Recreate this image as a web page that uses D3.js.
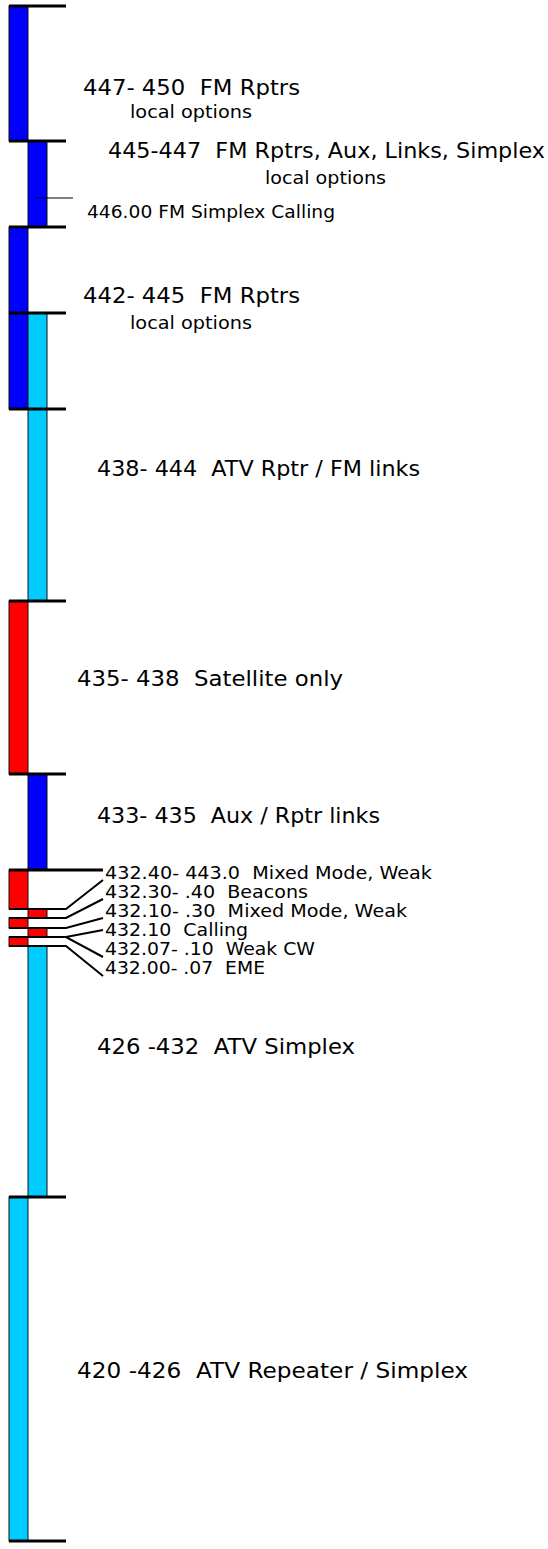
<!DOCTYPE html>
<html>
<head>
<meta charset="utf-8">
<script src="https://cdn.jsdelivr.net/npm/d3@7"></script>
<style>
  body { margin: 0; background: #fff; }
  text { font-family: "DejaVu Sans", sans-serif; fill: #000; white-space: pre; }
</style>
</head>
<body>
<div id="chart"></div>
<script>
// band edges in MHz, one entry per coloured block
var bandLo   = [447, 445, 442, 438, 435, 433, 432.4, 432.3, 432.1, 432.07, 432.0, 426, 420];
var bandHi   = [450, 447, 445, 444, 438, 435, 433, 432.4, 432.3, 432.1, 432.07, 432, 426];
var bandLane = [0, 1, 0, 1, 0, 1, 0, 1, 0, 1, 0, 1, 0];
var bandUse  = ["fm", "fm", "fm", "atv", "sat", "fm", "weak", "weak", "weak", "weak", "weak", "atv", "atv"];

// frequencies that get a heavy tick
var tickFreqs = [450, 447, 445, 444, 442, 438, 435, 433, 426, 420];

// single calling channel marker
var markFreq = 446.0;

// main labels
var mainLabels = ["447- 450  FM Rptrs", "445-447  FM Rptrs, Aux, Links, Simplex", "442- 445  FM Rptrs",
                  "438- 444  ATV Rptr / FM links", "435- 438  Satellite only", "433- 435  Aux / Rptr links",
                  "426 -432  ATV Simplex", "420 -426  ATV Repeater / Simplex"];
var subLabels  = ["local options", "local options", "446.00 FM Simplex Calling", "local options"];

// the crowded 432 MHz weak signal segment
var weakLabels = ["432.40- 443.0  Mixed Mode, Weak", "432.30- .40  Beacons", "432.10- .30  Mixed Mode, Weak",
                  "432.10  Calling", "432.07- .10  Weak CW", "432.00- .07  EME"];
// leader lines: block edge they start from, label they run to, which side of it
var leadFrom  = [432.4, 432.3, 432.1, 432.07, 432.07, 432.0];
var leadLabel = [1, 2, 3, 3, 4, 5];
var leadSide  = ["top", "top", "top", "mid", "bot", "bot"];

// the original drawing is not to scale, so the axis is piecewise
var y = d3.scaleLinear()
    .domain([450, 447, 446, 445, 444, 442, 438, 435, 433, 432.4, 432.3, 432.1, 432.07, 432, 426, 420])
    .range([6, 141, 198, 227, 313, 409, 601, 774, 870, 909, 918, 928, 937, 946, 1197, 1541]);

var color = d3.scaleOrdinal()
    .domain(["fm", "atv", "sat", "weak"])
    .range(["#0000ff", "#00ccff", "#ff0000", "#ff0000"]);

var laneX = d3.scaleBand().domain([0, 1]).range([9, 47]).padding(0);

var width = 548, height = 1549;
var svg = d3.select("#chart").append("svg")
    .attr("width", width)
    .attr("height", height);

// blocks
svg.append("g").selectAll("rect")
    .data(d3.range(bandLo.length))
    .enter().append("rect")
    .attr("x", function(i) { return laneX(bandLane[i]); })
    .attr("y", function(i) { return y(bandHi[i]); })
    .attr("width", laneX.bandwidth())
    .attr("height", function(i) { return y(bandLo[i]) - y(bandHi[i]); })
    .attr("fill", function(i) { return color(bandUse[i]); })
    .attr("stroke", "#111")
    .attr("stroke-width", 1);

// heavy ticks
svg.append("g").selectAll("line")
    .data(tickFreqs)
    .enter().append("line")
    .attr("x1", 9)
    .attr("x2", function(d) { return d == 433 ? 103 : 66; })
    .attr("y1", function(d) { return y(d); })
    .attr("y2", function(d) { return y(d); })
    .attr("stroke", "#000")
    .attr("stroke-width", 3);

// 446.00 marker
svg.append("line")
    .attr("x1", 36).attr("x2", 73)
    .attr("y1", y(markFreq)).attr("y2", y(markFreq))
    .attr("stroke", "#000").attr("stroke-width", 1.2);

// label layout (x, centre y, width) - picked to sit like the original
var mainPos = [[83, 87, 217], [108, 150, 437], [83, 295, 217], [97, 468, 323],
               [77, 678, 266], [97, 815, 283], [97, 1046, 258], [77, 1370, 391]];
var subPos  = [[130, 112, 122], [265, 178, 121], [87, 212, 248], [130, 323, 122]];
var weakPos = [[105, 873, 327], [105, 892, 203], [105, 911, 302], [105, 930, 143], [105, 949, 210], [105, 968, 160]];

function addLabels(texts, pos, size) {
    svg.append("g").selectAll("text")
        .data(texts)
        .enter().append("text")
        .attr("x", function(d, i) { return pos[i][0]; })
        .attr("y", function(d, i) { return pos[i][1]; })
        .attr("dy", "0.36em")
        .attr("font-size", size)
        .attr("textLength", function(d, i) { return pos[i][2]; })
        .attr("lengthAdjust", "spacingAndGlyphs")
        .text(function(d) { return d; });
}
addLabels(mainLabels, mainPos, 22);
addLabels(subLabels, subPos, 17);
addLabels(weakLabels, weakPos, 18);

// leaders from the weak signal blocks out to their labels
var sideOffset = {top: -12, mid: 0, bot: 8};
var leader = d3.line();
svg.append("g").selectAll("path")
    .data(d3.range(leadFrom.length))
    .enter().append("path")
    .attr("d", function(i) {
        var y0 = y(leadFrom[i]);
        var y1 = weakPos[leadLabel[i]][1] + sideOffset[leadSide[i]];
        return leader([[9, y0], [66, y0], [103, y1]]);
    })
    .attr("fill", "none")
    .attr("stroke", "#000")
    .attr("stroke-width", 2);
</script>
</body>
</html>
